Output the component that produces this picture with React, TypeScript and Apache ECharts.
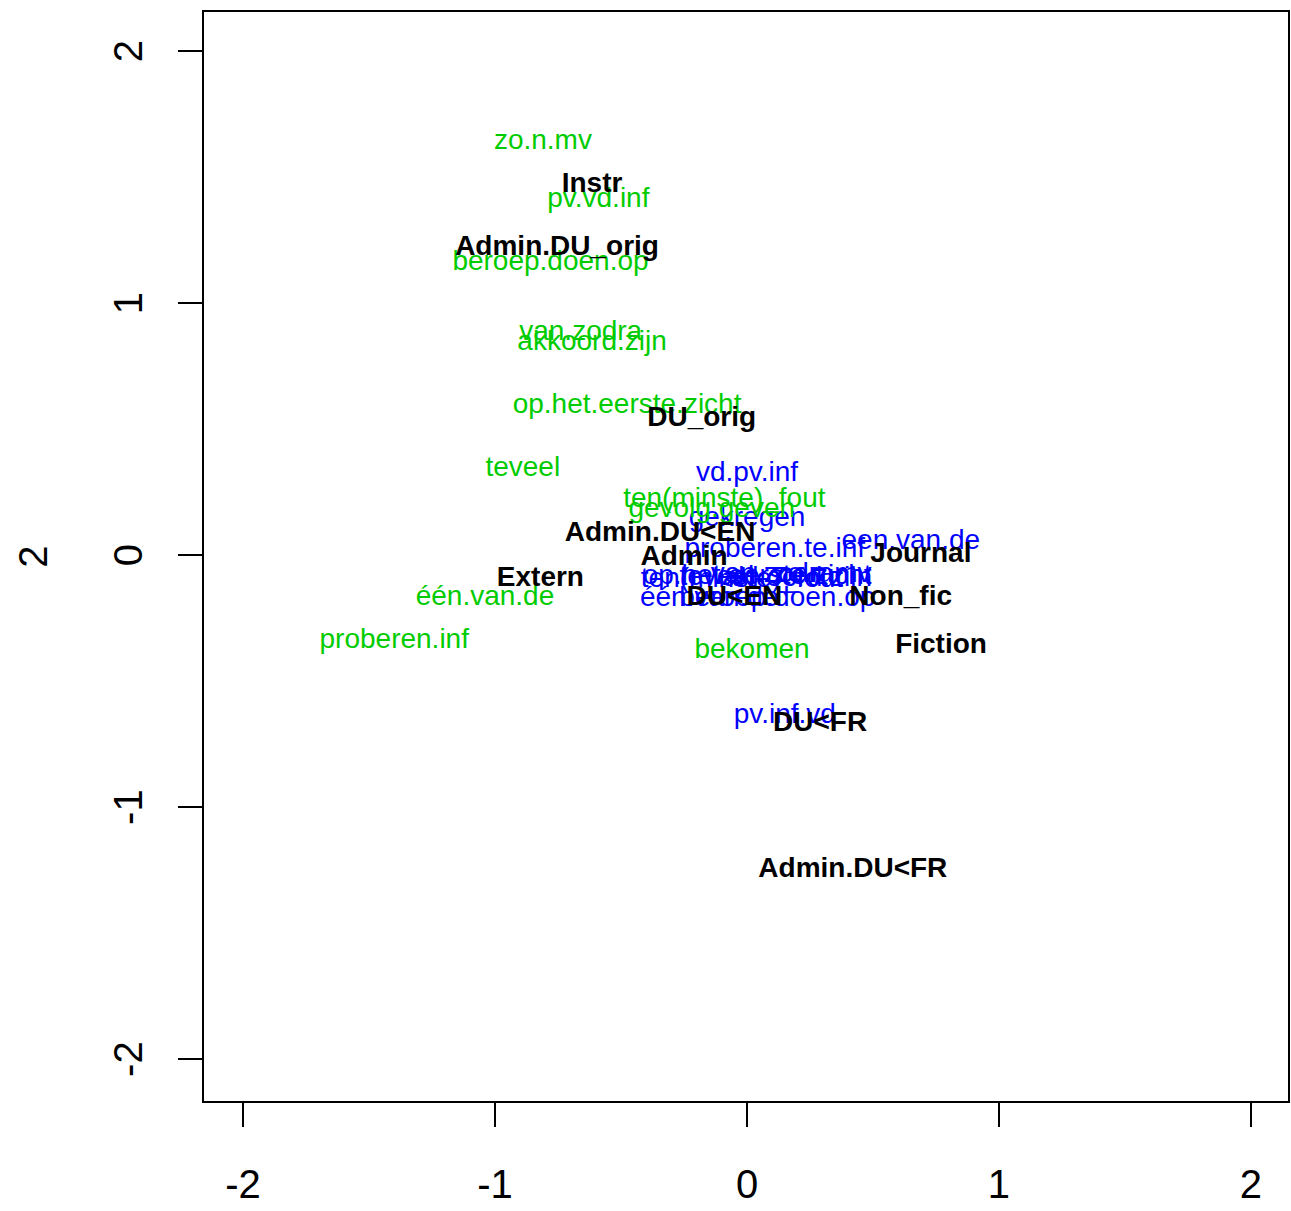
import React, { useEffect, useRef } from "react";
import * as echarts from "echarts";

// Category points (bold black labels)
const catNames = [
  "Instr", "Admin.DU_orig", "DU_orig", "Admin.DU<EN", "Admin", "Extern",
  "Journal", "DU<EN", "Non_fic", "Fiction", "DU<FR", "Admin.DU<FR",
];
const catX = [-0.615, -0.754, -0.18, -0.345, -0.25, -0.82, 0.69, -0.05, 0.61, 0.77, 0.29, 0.42];
const catY = [1.48, 1.23, 0.55, 0.095, 0.0, -0.083, 0.01, -0.16, -0.16, -0.35, -0.66, -1.24];

// Green constructions
const greenNames = [
  "zo.n.mv", "pv.vd.inf", "beroep.doen.op", "van.zodra", "akkoord.zijn",
  "op.het.eerste.zicht", "teveel", "ten(minste)_fout", "gevolg.geven",
  "één.van.de", "proberen.inf", "bekomen",
];
const greenX = [-0.81, -0.59, -0.78, -0.66, -0.615, -0.476, -0.89, -0.09, -0.14, -1.04, -1.40, 0.02];
const greenY = [1.65, 1.42, 1.17, 0.89, 0.85, 0.60, 0.35, 0.23, 0.19, -0.16, -0.33, -0.37];

// Blue constructions
const blueNames = [
  "vd.pv.inf", "gekregen", "proberen.te.inf", "een.van.de",
  "op.het.eerste.zicht", "teveel", "van.zodra", "akkoord.zijn", "zo.n.mv",
  "ten(minste)_fout", "één.van.de", "beroep.doen.op", "pv.inf.vd",
];
const blueX = [0.0, 0.0, 0.11, 0.65, 0.04, -0.12, 0.1, 0.2, 0.3, -0.02, -0.15, 0.12, 0.15];
const blueY = [0.33, 0.155, 0.03, 0.06, -0.075, -0.08, -0.07, -0.085, -0.07, -0.09, -0.165, -0.165, -0.63];

const tickValues = [-2, -1, 0, 1, 2];

const FONT = "'Liberation Sans', Arial, Helvetica, sans-serif";

function labelSeries(names: string[], xs: number[], ys: number[], color: string, bold: boolean) {
  return {
    type: "scatter",
    silent: true,
    symbolSize: 0,
    data: names.map((n, i) => ({ name: n, value: [xs[i], ys[i]] })),
    label: {
      show: true,
      position: [0, 0],
      align: "center",
      verticalAlign: "middle",
      formatter: (p: any) => p.name,
      color,
      opacity: 1,
      fontSize: 28,
      fontWeight: bold ? "bold" : "normal",
      fontFamily: FONT,
    },
    labelLayout: { hideOverlap: false },
  };
}

export default function App() {
  const ref = useRef<HTMLDivElement>(null);
  useEffect(() => {
    document.body.style.margin = "0";
    const chart = echarts.init(ref.current!, null, { renderer: "svg" });
    chart.setOption({
      animation: false,
      backgroundColor: "#ffffff",
      grid: {
        left: 203,
        right: 2,
        top: 11,
        bottom: 109,
        show: true,
        borderColor: "#000",
        borderWidth: 2,
        backgroundColor: "transparent",
      },
      xAxis: {
        type: "value",
        min: -2.159,
        max: 2.151,
        splitLine: { show: false },
        axisLine: { show: false, onZero: false },
        axisTick: { show: true, length: 25, customValues: tickValues, lineStyle: { color: "#000", width: 2 } },
        axisLabel: {
          customValues: tickValues,
          margin: 62,
          fontSize: 40,
          color: "#000",
          fontFamily: FONT,
        },
      },
      yAxis: {
        type: "value",
        min: -2.17,
        max: 2.159,
        name: "2",
        nameLocation: "middle",
        nameRotate: 90,
        nameGap: 150,
        nameTextStyle: { fontSize: 40, color: "#000", fontFamily: FONT },
        splitLine: { show: false },
        axisLine: { show: false, onZero: false },
        axisTick: { show: true, length: 25, customValues: tickValues, lineStyle: { color: "#000", width: 2 } },
        axisLabel: {
          customValues: tickValues,
          rotate: 90,
          margin: 55,
          fontSize: 40,
          color: "#000",
          fontFamily: FONT,
        },
      },
      series: [
        labelSeries(blueNames, blueX, blueY, "#0000ff", false),
        labelSeries(greenNames, greenX, greenY, "#00cc00", false),
        labelSeries(catNames, catX, catY, "#000000", true),
      ],
    });
    return () => chart.dispose();
  }, []);
  return (
    <div
      ref={ref}
      style={{ position: "absolute", left: 0, top: 0, width: 1291, height: 1211 }}
    />
  );
}
